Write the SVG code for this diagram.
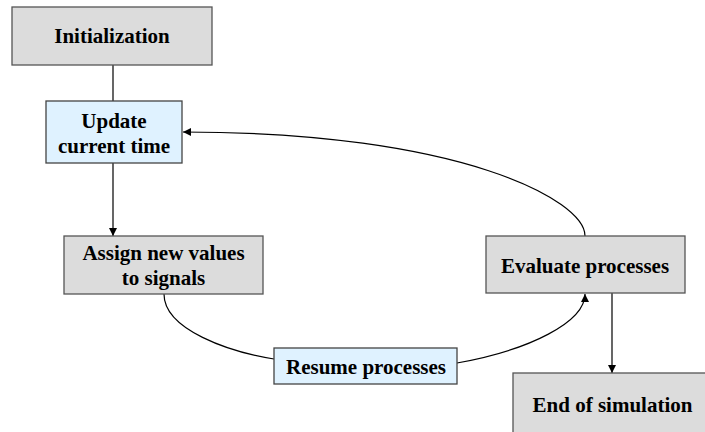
<svg xmlns="http://www.w3.org/2000/svg" width="705" height="432" viewBox="0 0 705 432">
<style>
.gray{fill:#dcdcdc;stroke:#555;stroke-width:1.3}
.blue{fill:#dff2ff;stroke:#444;stroke-width:1.3}
.t{font-family:"Liberation Serif","Times New Roman",serif;font-weight:bold;font-size:21px;fill:#000;text-anchor:middle}
.c{fill:none;stroke:#000;stroke-width:1.2}
</style>
<defs>
<marker id="ah" viewBox="0 0 10 10" refX="10" refY="5" markerWidth="8" markerHeight="8" markerUnits="userSpaceOnUse" orient="auto">
<path d="M0,0 L10,5 L0,10 Z" fill="#000"/>
</marker>
</defs>
<rect x="0" y="0" width="705" height="432" fill="#fff"/>
<g id="connectors">
<line class="c" x1="113" y1="65" x2="113" y2="101"/>
<line class="c" x1="113" y1="163" x2="113" y2="236" marker-end="url(#ah)"/>
<path class="c" d="M585,236 C585,200 460,132 183,132" marker-end="url(#ah)"/>
<path class="c" d="M164,294 C164,330 230,352 274,359"/>
<path class="c" d="M457,363 C530,350 585,322 585,294" marker-end="url(#ah)"/>
<line class="c" x1="612" y1="293" x2="612" y2="373" marker-end="url(#ah)"/>
</g>
<g id="init">
<rect class="gray" x="12" y="7" width="200" height="58"/>
<text class="t" x="112" y="43">Initialization</text>
</g>
<g id="update">
<rect class="blue" x="46" y="101" width="136" height="62"/>
<text class="t" x="114" y="128">Update</text>
<text class="t" x="114" y="153">current time</text>
</g>
<g id="assign">
<rect class="gray" x="64" y="236" width="199" height="58"/>
<text class="t" x="163.5" y="260">Assign new values</text>
<text class="t" x="163.5" y="285">to signals</text>
</g>
<g id="resume">
<rect class="blue" x="274" y="348" width="183" height="36"/>
<text class="t" x="366" y="374">Resume processes</text>
</g>
<g id="evaluate">
<rect class="gray" x="486" y="236" width="199" height="57"/>
<text class="t" x="585" y="273">Evaluate processes</text>
</g>
<g id="end">
<rect class="gray" x="513" y="373" width="200" height="70"/>
<text class="t" x="612.5" y="412">End of simulation</text>
</g>
</svg>
